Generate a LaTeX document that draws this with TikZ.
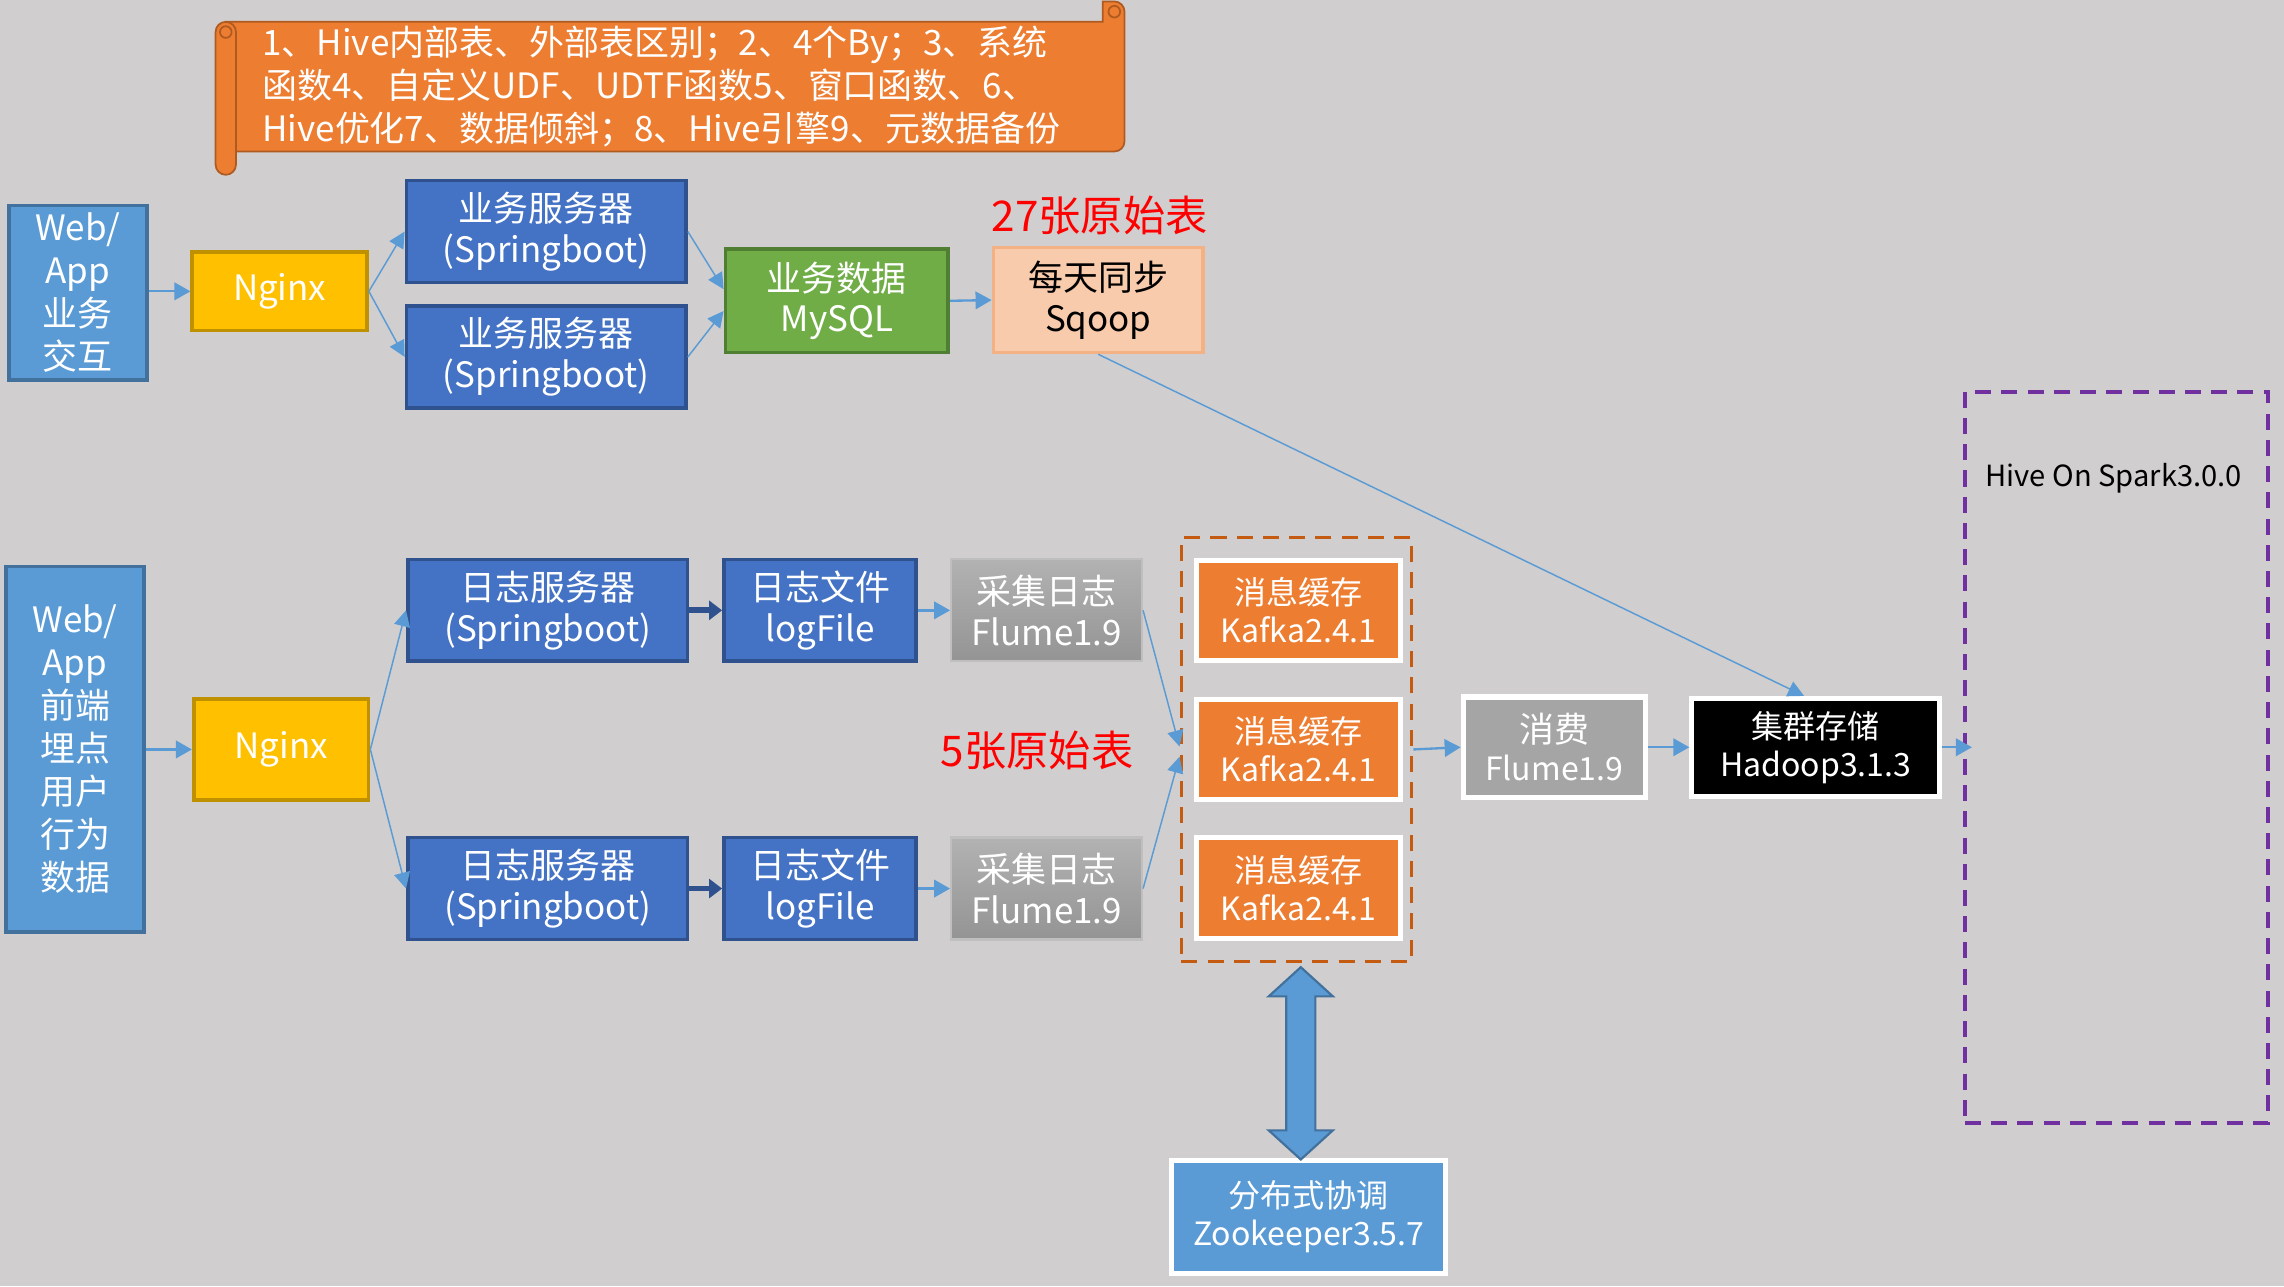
\documentclass[tikz,border=0pt]{standalone}
\usepackage{fontspec}
\setmainfont{Noto Sans CJK SC}
\usetikzlibrary{arrows.meta}

\definecolor{fundo}{HTML}{D0CECE}
\definecolor{azulclaro}{HTML}{5B9BD5}
\definecolor{azulclaroborda}{HTML}{41719C}
\definecolor{azul}{HTML}{4472C4}
\definecolor{azulborda}{HTML}{2F528F}
\definecolor{amarelo}{HTML}{FFC000}
\definecolor{amareloborda}{HTML}{BF9000}
\definecolor{verde}{HTML}{70AD47}
\definecolor{verdeborda}{HTML}{507E32}
\definecolor{salmao}{HTML}{F8CBAD}
\definecolor{salmaoborda}{HTML}{F4B183}
\definecolor{laranja}{HTML}{ED7D31}
\definecolor{laranjaborda}{HTML}{C55A11}
\definecolor{laranjarolo}{HTML}{AE5A21}
\definecolor{cinza}{HTML}{A5A5A5}
\definecolor{cinzatopo}{HTML}{B2B2B2}
\definecolor{cinzabase}{HTML}{949494}
\definecolor{cinzaborda}{HTML}{BFBFBF}
\definecolor{roxo}{HTML}{7030A0}
\definecolor{vermelho}{HTML}{FF0000}

\begin{document}
\begin{tikzpicture}[x=1pt, y=-1pt,
    caixa/.style={draw, line width=2.5pt, text=white, align=center, inner sep=0pt,
        font=\fontsize{24}{28}\selectfont},
    caixabranca/.style={caixa, draw=white, line width=3.5pt, font=\fontsize{22}{26}\selectfont},
    coleta/.style={caixa, draw=cinzaborda, line width=1.5pt, top color=cinzatopo, bottom color=cinzabase},
    grupo/.style={draw, line width=2.5pt, dash pattern=on 11pt off 7pt, inner sep=0pt},
    rotulo/.style={text=vermelho, font=\fontsize{29}{32}\selectfont},
    seta/.style={azulclaro, line width=1.6pt, -{Triangle[length=11pt,width=12pt]}},
    setafina/.style={azulclaro, line width=1pt, -{Triangle[length=11pt,width=11pt]}},
    setaescura/.style={azulborda, line width=4pt, -{Triangle[length=9pt,width=13pt]}}]

        % 1. VARIÁVEIS
        \def\Hc{70}   % altura das caixas
        \def\Ls{192}  % largura dos servidores

        % fundo cinza
        \useasboundingbox (0,0) rectangle (1568,883);
        \fill[fundo] (0,0) rectangle (1568,883);

        % ==========================================
        % 2. PERGAMINHO (tópicos de Hive)
        % ==========================================
        \filldraw[fill=laranja, draw=laranjarolo, line width=1.2pt] (757,1) [rounded corners=7pt] -- (772,1) -- (772,104) [sharp corners] -- (155,104) -- (155,15) -- (757,15) -- cycle;
        \filldraw[fill=laranja, draw=laranjarolo, line width=1.2pt, rounded corners=7pt] (148,15) rectangle (162,120);
        \draw[laranjarolo, line width=1.2pt] (155,22) circle (4);
        \draw[laranjarolo, line width=1.2pt] (765,8) circle (4);
        \node[anchor=west, text=white, align=left, inner sep=0pt, font=\fontsize{24}{29.5}\selectfont] (topicos) at (180,59.5)
            {1、Hive内部表、外部表区别；2、4个By；3、系统\\函数4、自定义UDF、UDTF函数5、窗口函数、6、\\Hive优化7、数据倾斜；8、Hive引擎9、元数据备份};

        % ==========================================
        % 3. DADOS DE NEGÓCIO (linha de cima)
        % ==========================================
        \node[caixa, fill=azulclaro, draw=azulclaroborda, minimum width=95, minimum height=120, font=\fontsize{24}{29.5}\selectfont] (web1) at (53.5,201) {Web/\\App\\业务\\交互};
        \node[caixa, fill=amarelo, draw=amareloborda, minimum width=120, minimum height=54] (ngx1) at (192,200) {Nginx};
        \node[caixa, fill=azul, draw=azulborda, minimum width=\Ls, minimum height=\Hc] (biz1) at (375,159) {业务服务器\\(Springboot)};
        \node[caixa, fill=azul, draw=azulborda, minimum width=\Ls, minimum height=\Hc] (biz2) at (375,245) {业务服务器\\(Springboot)};
        \node[caixa, fill=verde, draw=verdeborda, minimum width=153, minimum height=71] (mysql) at (574.5,206.5) {业务数据\\MySQL};
        \node[caixa, fill=salmao, draw=salmaoborda, text=black, minimum width=144, minimum height=72] (sqoop) at (754,206) {每天同步\\Sqoop};
        \node[rotulo] (rot27) at (755,148) {27张原始表};

        \draw[seta] (web1.east |- ngx1.west) -- (ngx1.west);
        \draw[setafina] (ngx1.east) -- (biz1.west);
        \draw[setafina] (ngx1.east) -- (biz2.west);
        \draw[setafina] (biz1.east) -- ([yshift=8pt]mysql.west);
        \draw[setafina] (biz2.east) -- ([yshift=-7pt]mysql.west);
        \draw[seta] (mysql.east) -- (sqoop.west);

        % ==========================================
        % 4. LOGS DE USUÁRIO (linha de baixo)
        % ==========================================
        \node[caixa, fill=azulclaro, draw=azulclaroborda, minimum width=95, minimum height=251, font=\fontsize{24}{29.5}\selectfont] (web2) at (51.5,514.5) {Web/\\App\\前端\\埋点\\用户\\行为\\数据};
        \node[caixa, fill=amarelo, draw=amareloborda, minimum width=120, minimum height=69] (ngx2) at (193,514.5) {Nginx};
        \node[caixa, fill=azul, draw=azulborda, minimum width=\Ls, minimum height=\Hc] (log1) at (376,419) {日志服务器\\(Springboot)};
        \node[caixa, fill=azul, draw=azulborda, minimum width=\Ls, minimum height=\Hc] (log2) at (376,610) {日志服务器\\(Springboot)};
        \node[caixa, fill=azul, draw=azulborda, minimum width=132, minimum height=\Hc] (file1) at (563,419) {日志文件\\logFile};
        \node[caixa, fill=azul, draw=azulborda, minimum width=132, minimum height=\Hc] (file2) at (563,610) {日志文件\\logFile};
        \node[coleta, minimum width=131, minimum height=\Hc] (flm1) at (718.5,419) {采集日志\\Flume1.9};
        \node[coleta, minimum width=131, minimum height=\Hc] (flm2) at (718.5,610) {采集日志\\Flume1.9};
        \node[rotulo] (rot5) at (712,515) {5张原始表};

        % Kafka dentro do grupo tracejado
        \node[grupo, draw=laranjaborda, minimum width=158, minimum height=291] (kafgrp) at (890,514.5) {};
        \node[caixabranca, fill=laranja, minimum width=140, minimum height=69] (kaf1) at (891.5,419) {消息缓存\\Kafka2.4.1};
        \node[caixabranca, fill=laranja, minimum width=140, minimum height=69] (kaf2) at (891.5,514.5) {消息缓存\\Kafka2.4.1};
        \node[caixabranca, fill=laranja, minimum width=140, minimum height=69] (kaf3) at (891.5,609.5) {消息缓存\\Kafka2.4.1};

        \node[caixabranca, fill=cinza, minimum width=125, minimum height=69] (cons) at (1067,513) {{\fontsize{24}{26}\selectfont 消费}\\Flume1.9};
        \node[caixabranca, fill=black, minimum width=170, minimum height=67] (hdp) at (1246.5,513) {集群存储\\Hadoop3.1.3};

        % Hive On Spark
        \node[grupo, draw=roxo, minimum width=208, minimum height=502] (hive) at (1453,520) {};
        \node[font=\fontsize{20}{24}\selectfont] (hivelbl) at (1451,328) {Hive On Spark3.0.0};

        % Zookeeper
        \node[caixabranca, fill=azulclaro, minimum width=188, minimum height=78] (zk) at (898.5,835.5) {分布式协调\\Zookeeper3.5.7};

        \draw[seta] (web2.east |- ngx2.west) -- (ngx2.west);
        \draw[setafina] (ngx2.east) -- (log1.west);
        \draw[setafina] (ngx2.east) -- (log2.west);
        \draw[setaescura] (log1.east) -- (file1.west);
        \draw[setaescura] (log2.east) -- (file2.west);
        \draw[seta] (file1.east) -- (flm1.west);
        \draw[seta] (file2.east) -- (flm2.west);
        \draw[setafina] (flm1.east) -- ([yshift=2pt]kafgrp.west);
        \draw[setafina] (flm2.east) -- ([yshift=-5pt]kafgrp.west);
        \draw[seta] (kafgrp.east) -- (cons.west);
        \draw[seta] (cons.east) -- (hdp.west);
        \draw[seta] (hdp.east) -- ([xshift=6pt]hdp.east -| hive.west);
        \draw[setafina] (sqoop.south) -- ([xshift=-8pt]hdp.north);

        % seta dupla entre Kafka e Zookeeper
        \filldraw[fill=azulclaro, draw=azulclaroborda, line width=1.5pt]
            (893,664) -- (915,684) -- (903,684) -- (903,776) -- (915,776) -- (893,796)
            -- (871,776) -- (883,776) -- (883,684) -- (871,684) -- cycle;
    \end{tikzpicture}
\end{document}
